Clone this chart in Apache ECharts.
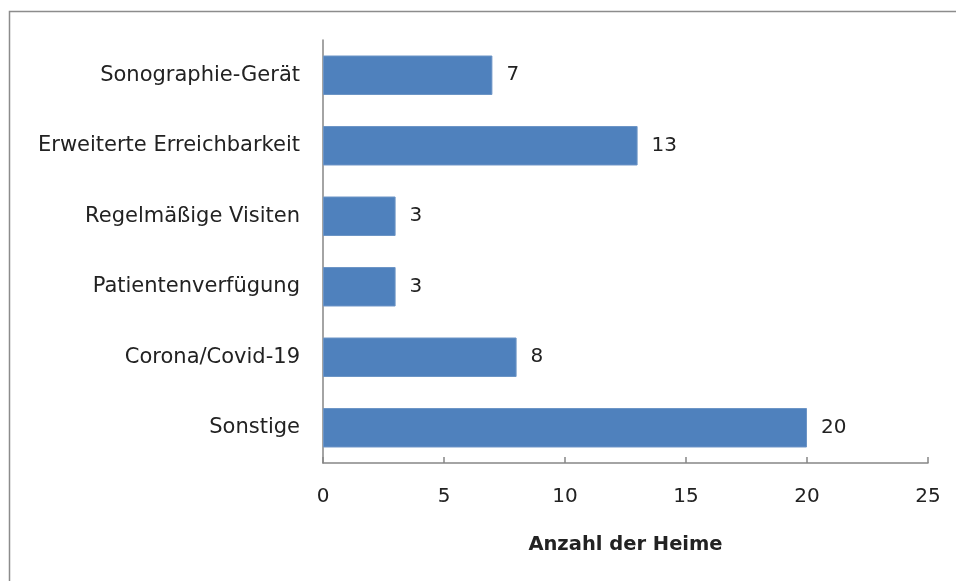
<!DOCTYPE html>
<html>
<head>
<meta charset="utf-8">
<script src="https://cdn.jsdelivr.net/npm/echarts@6/dist/echarts.min.js"></script>
<style>
  html, body { margin: 0; padding: 0; background: #fff; }
  #main { width: 956px; height: 581px; }
</style>
</head>
<body>
<div id="main"></div>
<script>
// Werte aus dem Diagramm (von unten nach oben, wie die Kategorieachse zählt)
const categories = ['Sonstige', 'Corona/Covid-19', 'Patientenverfügung', 'Regelmäßige Visiten', 'Erweiterte Erreichbarkeit', 'Sonographie-Gerät'];
const counts = [20, 8, 3, 3, 13, 7];
const xTicks = [0, 5, 10, 15, 20, 25];
const axisTitle = 'Anzahl der Heime';

let chart = echarts.init(document.getElementById('main'));
let option = {
  animation: false,
  textStyle: { fontFamily: 'DejaVu Sans, sans-serif' },
  graphic: [{
    type: 'rect',
    shape: { x: 9.5, y: 11.5, width: 960, height: 600 },
    style: { fill: 'none', stroke: '#8c8c8c', lineWidth: 1.5 },
    silent: true
  }],
  grid: { left: 323, right: 28, top: 40, bottom: 118 },
  xAxis: {
    type: 'value',
    min: xTicks[0],
    max: xTicks[xTicks.length - 1],
    interval: 5,
    name: axisTitle,
    nameLocation: 'middle',
    nameGap: 72,
    nameTextStyle: { fontSize: 19.5, fontWeight: 'bold', color: '#222' },
    axisLine: { show: true, lineStyle: { color: '#868686', width: 1.5 } },
    axisTick: { show: true, inside: true, length: 6, lineStyle: { color: '#868686', width: 1.5 } },
    axisLabel: { fontSize: 20, color: '#222', margin: 24 },
    splitLine: { show: false }
  },
  yAxis: {
    type: 'category',
    data: categories,
    axisLine: { show: true, lineStyle: { color: '#868686', width: 1.5 } },
    axisTick: { show: false },
    axisLabel: { fontSize: 21, color: '#222', margin: 23 }
  },
  series: [{
    type: 'bar',
    data: counts,
    barCategoryGap: '44%',
    itemStyle: { color: '#4F81BD', borderColor: '#6d95c6', borderWidth: 1 },
    label: { show: true, position: 'right', distance: 14, fontSize: 20, color: '#222' }
  }]
};
chart.setOption(option);
</script>
</body>
</html>
